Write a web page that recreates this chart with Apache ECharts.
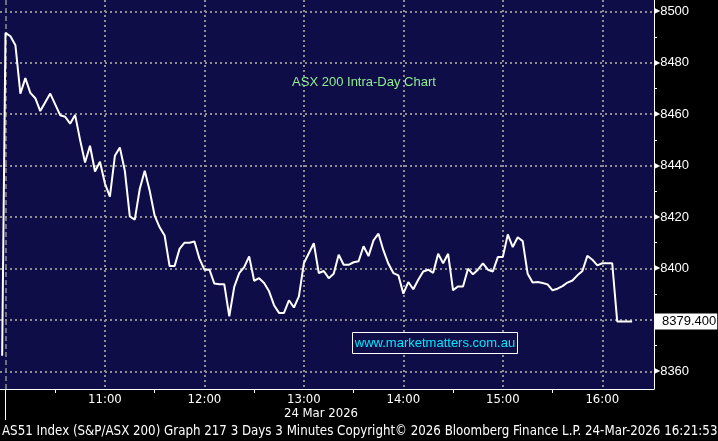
<!DOCTYPE html>
<html><head><meta charset="utf-8">
<script src="https://cdn.jsdelivr.net/npm/echarts@6/dist/echarts.min.js"></script>
<style>html,body{margin:0;padding:0;background:#000;}#c{width:718px;height:441px;}</style>
</head><body><div id="c"></div>
<script>
// ---- data ----
const sessionStart = '10:00';
const stepMinutes = 3;
const asx200Values = [
  8491.6, 8490.3, 8486.8, 8468, 8474, 8468.3, 8466.2, 8461.2, 8464.6, 8468,
  8463.8, 8459.6, 8459, 8456.3, 8459.7, 8450, 8441.2, 8447.7, 8437.7, 8441.5,
  8433, 8427.9, 8443.8, 8447, 8438, 8420.2, 8419, 8430.9, 8438, 8430.2,
  8420.5, 8416, 8412.8, 8400.9, 8400.9, 8407.6, 8410, 8410, 8410.5, 8403.8,
  8399.5, 8399.6, 8394.1, 8393.8, 8393.8, 8381.4, 8392.8, 8398.2, 8400.5, 8404.7,
  8395.2, 8396.2, 8394.3, 8391.1, 8385.7, 8382.7, 8382.7, 8387.6, 8384.8, 8389.1,
  8402, 8405.9, 8409.8, 8398.2, 8399, 8396.2, 8397.9, 8405.3, 8401.4, 8401.4,
  8402.4, 8402.8, 8408.6, 8404.8, 8410.9, 8413.5, 8407, 8401.8, 8398.2, 8397.3,
  8390.2, 8394.7, 8391.9, 8395.6, 8398.8, 8399.5, 8398.3, 8405.7, 8402, 8405.7,
  8391.5, 8393, 8393, 8399.9, 8397.7, 8399.5, 8402, 8399.5, 8398.8, 8404.4,
  8404.4, 8413.2, 8408.3, 8412.1, 8410.6, 8397.9, 8394.5, 8394.7, 8394.3, 8393.8,
  8391.5, 8392.1, 8393.1, 8394.5, 8395.3, 8397.3, 8399, 8404.9, 8403.4, 8401.2,
  8402, 8402, 8402, 8379.4, 8379.4, 8379.4, 8379.4
];
const prevSessionTimes = ['09:58'];
const prevSessionValues = [8366];
const hourLabels = ['11:00', '12:00', '13:00', '14:00', '15:00', '16:00'];
const halfHourTicks = ['10:30', '11:30', '12:30', '13:30', '14:30', '15:30'];
const sessionBoundary = ['10:00'];
const priceTicks = [8360, 8380, 8400, 8420, 8440, 8460, 8480, 8500];
const priceMinorTicks = [8370, 8390, 8410, 8430, 8450, 8470, 8490];
const lastPrice = [8379.4];
const chartTitle = 'ASX 200 Intra-Day Chart';
const watermark = 'www.marketmatters.com.au';
const dateLabel = '24 Mar 2026';
const footer = 'AS51 Index (S&P/ASX 200) Graph 217 3 Days 3 Minutes Copyright\u00a9 2026 Bloomberg Finance L.P. 24-Mar-2026 16:21:53';

// ---- helpers ----
const toMin = s => { const p = s.split(':').map(Number); return p[0] * 60 + p[1]; };
const fmt = v => { const h = Math.floor(v / 60), m = Math.round(v - h * 60); return h + ':' + String(m).padStart(2, '0'); };

const startMin = toMin(sessionStart);
const seriesData = prevSessionTimes.map((t, i) => [toMin(t), prevSessionValues[i]])
  .concat(asx200Values.map((v, i) => [startMin + i * stepMinutes, v]));

// ---- style ----
const navy = '#0f0d47';
const gridColor = '#8e8e8e';
const xMin = 596.7, xMax = 991.2, yMin = 8353.1, yMax = 8504.4;
const labelFont = "'Liberation Sans', Arial, sans-serif";
const condFont = "'DejaVu Sans Condensed', 'Liberation Sans Narrow', 'DejaVu Sans', sans-serif";

const chart = echarts.init(document.getElementById('c'), null, { renderer: 'canvas' });
const baseX = { type: 'value', min: xMin, max: xMax, position: 'bottom', offset: 0 };
const baseY = { type: 'value', min: yMin, max: yMax, position: 'right', offset: 0 };

chart.setOption({
  animation: false,
  backgroundColor: '#000',
  grid: { left: 0, right: 64, top: 0, bottom: 52, show: true, backgroundColor: navy, borderWidth: 0, containLabel: false, outerBoundsMode: 'none' },
  xAxis: [
    Object.assign({}, baseX, {
      axisLine: { show: true, onZero: false, lineStyle: { color: '#fff', width: 1 } },
      axisTick: { show: false, customValues: hourLabels.map(toMin) },
      axisLabel: { customValues: hourLabels.map(toMin), formatter: fmt, color: '#fff', fontFamily: condFont, fontSize: 13, margin: 4 },
      splitLine: { show: true, lineStyle: { color: gridColor, type: [2, 3], width: 2 } }
    }),
    Object.assign({}, baseX, {
      axisLine: { show: false },
      axisTick: { show: true, customValues: halfHourTicks.map(toMin), length: 4, lineStyle: { color: '#fff' } },
      axisLabel: { show: false }, splitLine: { show: false }
    }),
    Object.assign({}, baseX, {
      axisLine: { show: false },
      axisTick: { show: true, customValues: sessionBoundary.map(toMin), length: 31, lineStyle: { color: '#fff' } },
      axisLabel: { show: false }, splitLine: { show: false }
    })
  ],
  yAxis: [
    Object.assign({}, baseY, {
      axisLine: { show: true, lineStyle: { color: '#fff', width: 1 } },
      axisTick: { show: false, customValues: priceTicks },
      axisLabel: {
        customValues: priceTicks.filter(v => Math.abs(v - lastPrice[0]) > 5),
        margin: 0,
        formatter: v => '{a|\u25B6}{v|' + v + '}',
        rich: {
          a: { fontSize: 8, color: '#fff', fontFamily: 'DejaVu Sans', padding: [0, 0, 0, 0] },
          v: { fontSize: 13, color: '#fff', fontFamily: labelFont }
        }
      },
      splitLine: { show: true, lineStyle: { color: gridColor, type: [2, 3], width: 2 } }
    }),
    Object.assign({}, baseY, {
      axisLine: { show: false },
      axisTick: { show: true, customValues: priceMinorTicks, length: 3, lineStyle: { color: '#fff' } },
      axisLabel: { show: false }, splitLine: { show: false }
    }),
    Object.assign({}, baseY, {
      z: 10,
      axisLine: { show: false }, axisTick: { show: false }, splitLine: { show: false },
      axisLabel: {
        customValues: lastPrice, margin: 1, formatter: v => v.toFixed(3),
        color: '#000', backgroundColor: '#fff', padding: [2, 1, 1, 7],
        fontFamily: labelFont, fontSize: 13
      }
    })
  ],
  series: [{
    type: 'line', data: seriesData, xAxisIndex: 0, yAxisIndex: 0,
    showSymbol: false, symbol: 'none', z: 5,
    lineStyle: { color: '#fff', width: 2 },
    markLine: {
      silent: true, symbol: 'none', label: { show: false },
      lineStyle: { color: gridColor, type: [5, 3], width: 1.5 },
      data: sessionBoundary.map(s => ({ xAxis: toMin(s) }))
    }
  }],
  graphic: [
    { type: 'text', x: 364, y: 82, z: 20, style: { text: chartTitle, fill: '#90ee90', font: "13px 'Liberation Sans', Arial", textAlign: 'center', align: 'center', textVerticalAlign: 'middle', verticalAlign: 'middle' } },
    { type: 'rect', z: 20, shape: { x: 352.5, y: 332.5, width: 165, height: 21 }, style: { fill: navy, stroke: '#fff', lineWidth: 1 } },
    { type: 'text', x: 435, y: 343.5, z: 21, style: { text: watermark, fill: '#00e8ff', font: "13px 'Liberation Sans', Arial", textAlign: 'center', align: 'center', textVerticalAlign: 'middle', verticalAlign: 'middle' } },
    { type: 'text', x: 321, y: 414, z: 20, style: { text: dateLabel, fill: '#fff', font: "13px " + condFont, textAlign: 'center', align: 'center', textVerticalAlign: 'middle', verticalAlign: 'middle' } },
    { type: 'text', x: 2, y: 432, z: 20, style: { text: footer, fill: '#fff', font: "13.2px " + condFont, textAlign: 'left', align: 'left', textVerticalAlign: 'middle', verticalAlign: 'middle' } }
  ]
});
</script></body></html>
